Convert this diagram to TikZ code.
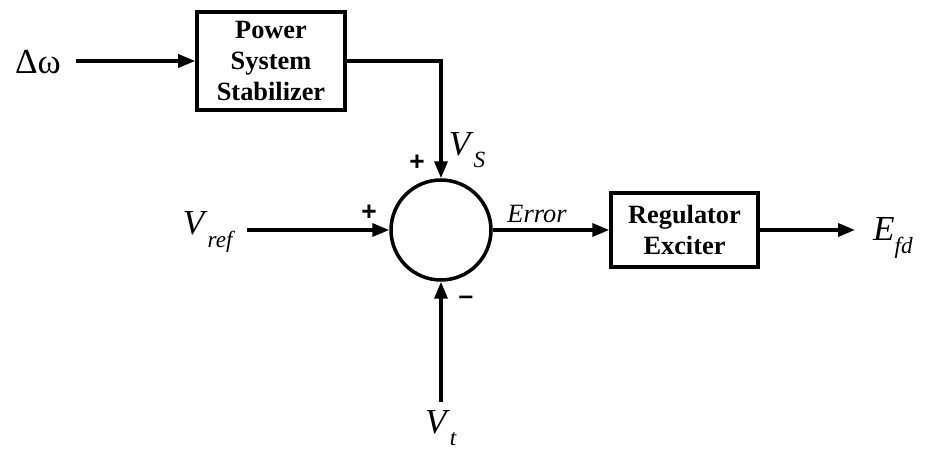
\documentclass[tikz,border=0pt]{standalone}
\usepackage{fontspec}
\setmainfont{Liberation Serif}[ItalicFont={Liberation Serif Italic}, BoldFont={Liberation Serif Bold}]
\newfontfamily\signfont{Liberation Sans}[BoldFont={Liberation Sans Bold}]
\usetikzlibrary{arrows.meta,positioning}

\newcommand{\sublbl}[2]{\textit{#1}\raisebox{-0.75ex}{\scalebox{0.66}{\textit{#2}}}}

\tikzset{
    blockbox/.style={draw, line width=2pt, font=\bfseries\fontsize{15}{17.5}\selectfont, align=center, inner sep=0pt},
    sig/.style={line width=2pt, -{Triangle[length=0.34cm,width=0.26cm]}},
    lbl/.style={font=\fontsize{20}{22}\selectfont, inner sep=0pt},
    sign/.style={font=\signfont\bfseries\fontsize{15}{16}\selectfont, inner sep=0pt}
}

\begin{document}
\begin{tikzpicture}[x=0.02cm,y=0.02cm]
        \useasboundingbox (0,0) rectangle (933,450);

        % Blocs
        \node[blockbox, minimum width=148*0.02cm, minimum height=98*0.02cm] (pss) at (271,389) {Power\\System\\Stabilizer};
        \node[draw, circle, line width=2pt, minimum size=2cm, inner sep=0pt] (sum) at (441,220) {};
        \node[blockbox, minimum width=147*0.02cm, minimum height=74*0.02cm] (reg) at (684.5,220) {Regulator\\Exciter};

        % Entrees et sortie
        \coordinate (dwin) at (76,389);
        \coordinate (vrefin) at (247,220);
        \coordinate (vtin) at (441,48);
        \coordinate (efdout) at (855,220);

        % Signaux
        \draw[sig] (dwin) -- (pss.west |- dwin);
        \draw[sig] (pss.east |- dwin) -| (sum.north);
        \draw[sig] (vrefin) -- (sum.west);
        \draw[sig] (vtin) -- (sum.south);
        \draw[sig] (sum.east) -- (reg.west);
        \draw[sig] (reg.east) -- (efdout);

        % Labels
        \node[lbl] (dw) at (38,388) {Δω};
        \node[lbl] (vref) at (209,218) {\sublbl{V}{ref}};
        \node[lbl] (vt) at (441,22) {\sublbl{V}{t}};
        \node[lbl] (vs) at (467,300) {\sublbl{V}{S}};
        \node[lbl] (efd) at (893,212) {\sublbl{E}{fd}};
        \node[font=\itshape\fontsize{15}{16}\selectfont, inner sep=0pt] (err) at (537,236) {Error};

        % Signes
        \node[sign] (plustop) at (417,287) {+};
        \node[sign] (plusleft) at (369,237) {+};
        \node[sign] (minus) at (466,150) {–};
    \end{tikzpicture}
\end{document}
